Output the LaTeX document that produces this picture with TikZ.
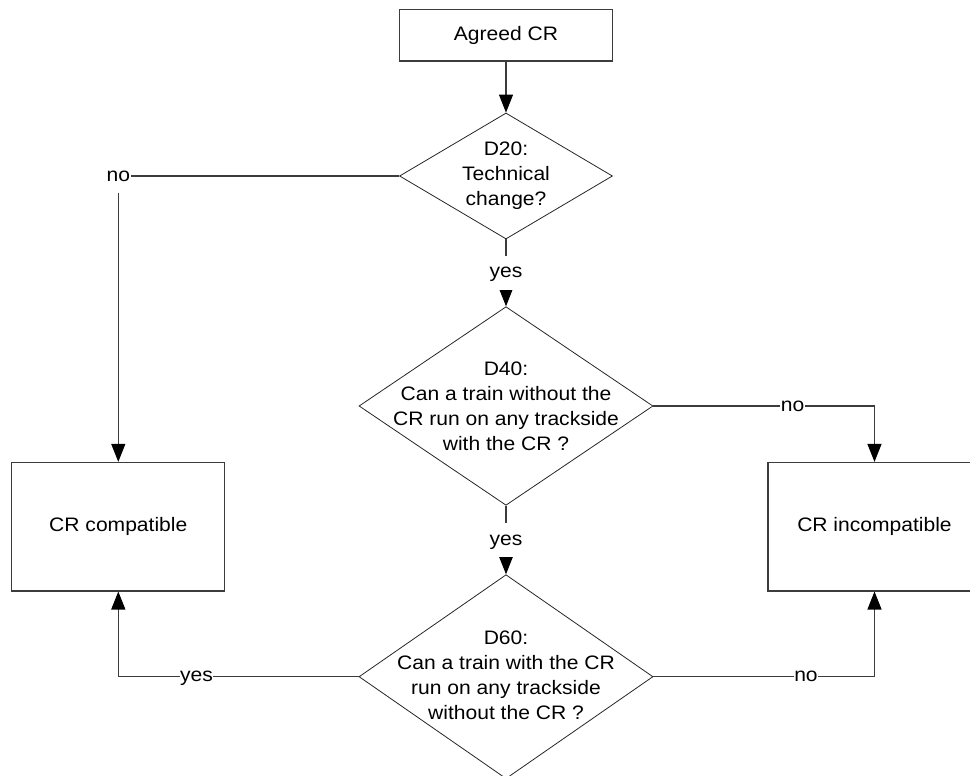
\documentclass[tikz,border=0pt]{standalone}
\usepackage{fontspec}
\setmainfont{Liberation Sans}[FakeStretch=1.08]
\usetikzlibrary{shapes.geometric,arrows.meta}
\definecolor{linecol}{RGB}{60,60,60}
\begin{document}
\begin{tikzpicture}[x=1pt,y=-1pt,
  font=\fontsize{19.5}{25}\selectfont,
  box/.style={draw=linecol, line width=1.1pt, rectangle, minimum width=213pt, inner sep=0pt},
  dec/.style={draw=black!85, line width=0.8pt, diamond, inner sep=0pt},
  txt/.style={align=center, inner sep=0pt},
  lbl/.style={fill=white, inner xsep=0.5pt, inner ysep=0pt, text height=10pt, text depth=0pt, minimum height=34pt},
  conn/.style={draw=linecol, line width=1.1pt, -{Triangle[length=18pt,width=14pt,color=black,fill=black]}}]
\useasboundingbox (0,0) rectangle (970,776);
% boxes
\node[box, minimum height=51.7pt] (agreed) at (506,35.2) {Agreed CR};
\node[box, minimum height=128.5pt] (compat) at (118.3,526.7) {CR compatible};
\node[box, minimum height=128.5pt] (incompat) at (874.5,526.7) {CR incompatible};
% decisions
\node[dec, minimum width=213pt, minimum height=126pt] (d20) at (506,176) {};
\node[txt] (t20) at (d20) {D20:\\Technical\\change?};
\node[dec, minimum width=294pt, minimum height=198.6pt] (d40) at (506,406) {};
\node[txt] (t40) at (d40) {D40:\\Can a train without the\\CR run on any trackside\\with the CR ?};
\node[dec, minimum width=294pt, minimum height=204pt] (d60) at (506,676.7) {};
\node[txt] (t60) at (506,675.5) {D60:\\Can a train with the CR\\run on any trackside\\without the CR ?};
% connectors
\draw[conn] (agreed.south) -- (d20.north);
\draw[conn] (d20.south) -- node[lbl] {yes} (d40.north);
\draw[conn] (d40.south) -- node[lbl] {yes} (d60.north);
\draw[conn] (d20.west) -| node[lbl, pos=0.5] {no} (compat.north);
\draw[conn] (d60.west) -| node[lbl, pos=0.3375] {yes} (compat.south);
\draw[conn] (d40.east) -| node[lbl, pos=0.315] {no} (incompat.north);
\draw[conn] (d60.east) -| node[lbl, pos=0.345] {no} (incompat.south);
\end{tikzpicture}
\end{document}
